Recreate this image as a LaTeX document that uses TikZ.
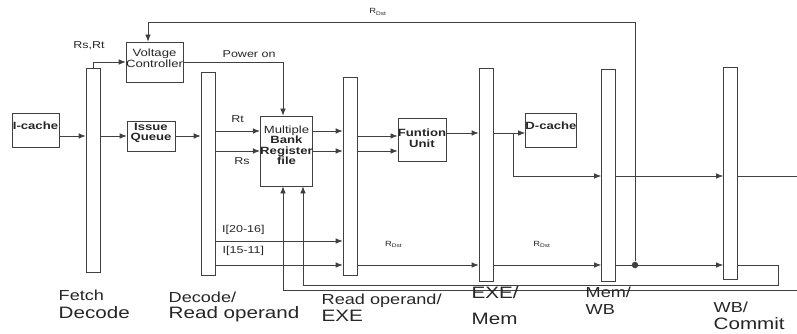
\documentclass[tikz,border=0pt]{standalone}
\usepackage{fontspec}
\setmainfont[FakeStretch=1.25]{Liberation Sans}
\usetikzlibrary{arrows.meta}
\tikzset{flow/.style={-{Latex[length=7pt,width=5.5pt]}}}

\begin{document}
\begin{tikzpicture}[x=1pt,y=-1pt,line width=0.7pt,color=black!75,
  every node/.style={font=\fontsize{10}{11}\selectfont,text=black!85},
  unit/.style={draw,inner sep=0pt,align=center,text depth=8pt,font=\fontsize{10.5}{10.5}\selectfont\bfseries},
  latch/.style={draw,inner sep=0pt,minimum width=14pt},
  stagea/.style={anchor=base west,font=\fontsize{14.5}{16}\selectfont},
  stageb/.style={anchor=base west,font=\fontsize{16.5}{18}\selectfont},
  rdst/.style={font=\fontsize{7.5}{8}\selectfont}]
  \useasboundingbox (0,0) rectangle (797,334);

  % pipeline latches
  \node[latch,minimum height=204pt] (bar1) at (93,170) {};
  \node[latch,minimum height=203pt] (bar2) at (208,173.5) {};
  \node[latch,minimum height=198pt] (bar3) at (350,176) {};
  \node[latch,minimum height=213pt] (bar4) at (486,174.5) {};
  \node[latch,minimum height=212pt] (bar5) at (608.5,175) {};
  \node[latch,minimum height=212pt] (bar6) at (730.5,173) {};

  % units
  \node[unit,minimum width=47pt,minimum height=34pt] (icache) at (35.5,130) {I-cache};
  \node[unit,minimum width=55pt,minimum height=40pt,font=\fontsize{10.5}{10.5}\selectfont] (vc) at (154.5,62) {Voltage\\Controller};
  \node[unit,minimum width=48pt,minimum height=30pt] (iq) at (151,136) {Issue\\Queue};
  \node[unit,minimum width=47pt,minimum height=70pt,text depth=12pt] (mbr) at (286.5,151) {\mdseries Multiple\\Bank\\Register\\file};
  \node[unit,minimum width=48pt,minimum height=43pt,text depth=3pt] (fu) at (422,139.5) {Funtion\\Unit};
  \node[unit,minimum width=48pt,minimum height=34pt] (dcache) at (551,130) {D-cache};

  \coordinate (split) at (513,133);
  \coordinate (fbk) at (148,22);
  \coordinate (turn) at (778,285);
  \coordinate (out1) at (797,176);
  \coordinate (out2) at (797,290);
  \node[circle,fill,inner sep=0pt,minimum size=6.5pt] (dot) at (635,265) {};

  % fetch / issue
  \draw[flow] (icache.east |- 0,136) -- (bar1.west |- 0,136);
  \draw[flow] (bar1.east |- 0,136) -- (iq.west);
  \draw[flow] (iq.east) -- (bar2.west |- iq.east);
  \draw[flow] (bar1.north) |- (vc.west);
  \node (rsrt) at (89,46) {Rs,Rt};
  \draw[flow] (vc.east) -| ([xshift=-3.5pt]mbr.north) node[pos=0.33,above=1pt] {Power on};

  % register read
  \draw[flow] (bar2.east |- 0,131) -- (mbr.west |- 0,131) node[midway,above=5pt] {Rt};
  \draw[flow] (bar2.east |- 0,151) -- (mbr.west |- 0,151) node[pos=0.6,below=3pt] {Rs};
  \draw[flow] (mbr.east |- 0,131) -- (bar3.west |- 0,131);
  \draw[flow] (mbr.east |- 0,151) -- (bar3.west |- 0,151);
  \draw[flow] (bar3.east |- 0,136) -- (fu.west |- 0,136);
  \draw[flow] (bar3.east |- 0,151) -- (fu.west |- 0,151);
  \draw[flow] (fu.east |- 0,133) -- (bar4.west |- 0,133);
  \draw[flow] (bar4.east |- 0,133) -- (dcache.west |- 0,133);
  \draw[flow] (split) |- (bar5.west |- 0,176);
  \draw[flow] (bar5.east |- 0,176) -- (bar6.west |- 0,176);
  \draw (bar6.east |- 0,176) -- (out1);

  % destination register path
  \draw[flow] (bar2.east |- 0,241) -- (bar3.west |- 0,241) node[pos=0.22,above=3pt] {I[20-16]};
  \draw[flow] (bar2.east |- 0,265) -- (bar3.west |- 0,265) node[pos=0.22,above=6pt] {I[15-11]};
  \draw[flow] (bar3.east |- 0,265) -- (bar4.west |- 0,265) node[pos=0.3,above=14pt,rdst] {R\textsubscript{Dst}};
  \draw[flow] (bar4.east |- 0,265) -- (bar5.west |- 0,265) node[pos=0.45,above=14pt,rdst] {R\textsubscript{Dst}};
  \draw[flow] (bar5.east |- 0,265) -- (bar6.west |- 0,265);
  \draw[flow] (dot) |- (fbk) -- (fbk |- vc.north);
  \node[rdst] (rdsttop) at (378,12) {R\textsubscript{Dst}};
  \draw[flow] (bar6.east |- 0,265) -| (turn) -| ([xshift=16.5pt]mbr.south);
  \draw[flow] (out2) -| ([xshift=-3.5pt]mbr.south);

  % stage names
  \node[stagea] (s1a) at (55,300) {Fetch};
  \node[stageb] (s1b) at (55,318) {Decode};
  \node[stagea] (s2a) at (165,302) {Decode/};
  \node[stageb] (s2b) at (165,318) {Read operand};
  \node[stagea] (s3a) at (318,304) {Read operand/};
  \node[stageb] (s3b) at (318,321) {EXE};
  \node[stageb] (s4a) at (468,298) {EXE/};
  \node[stageb] (s4b) at (468,324) {Mem};
  \node[stagea] (s5a) at (582,297) {Mem/};
  \node[stagea] (s5b) at (582,314) {WB};
  \node[stagea] (s6a) at (710,312) {WB/};
  \node[stageb] (s6b) at (710,329) {Commit};
\end{tikzpicture}
\end{document}
